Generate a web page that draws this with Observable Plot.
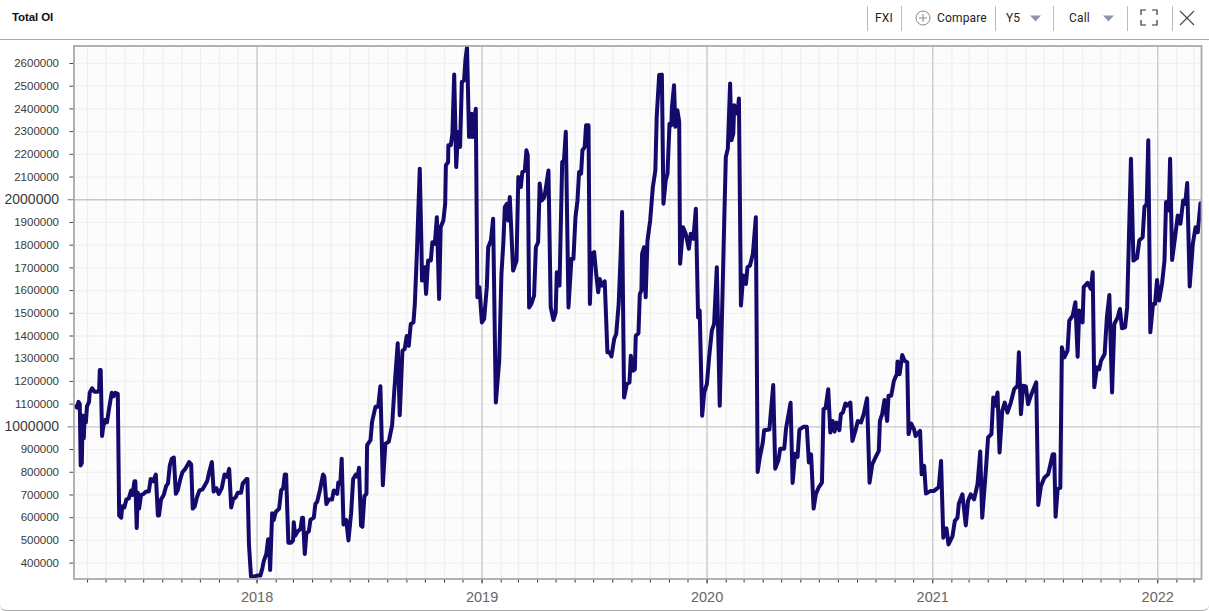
<!DOCTYPE html>
<html>
<head>
<meta charset="utf-8">
<script src="https://cdn.jsdelivr.net/npm/d3@7"></script>
<script src="https://cdn.jsdelivr.net/npm/@observablehq/plot@0.6"></script>
<style>
html,body{margin:0;padding:0;background:#fff;overflow:hidden}
#wrap{position:relative;width:1209px;height:610px;border-bottom:1px solid #aaa;border-radius:0 0 6px 6px;box-sizing:content-box}
#head{position:absolute;left:0;top:0;width:1209px;height:38.5px;border-bottom:1px solid #ababab;font:12px Roboto,sans-serif;color:#222}
#head span{position:absolute;top:10.5px;line-height:14px;white-space:nowrap;letter-spacing:.15px}
#head i{position:absolute;top:6px;width:1px;height:25px;background:#bcbcbc}
#head span.title{left:12px;top:10.5px;font:bold 11.5px "Liberation Sans",Arial,sans-serif;color:#111;letter-spacing:-.1px}
#head svg{position:absolute;left:0;top:0}
#chart{position:absolute;left:0;top:39px}
#chart svg{display:block}
</style>
</head>
<body>
<div id="wrap">
<div id="head">
<span class="title">Total OI</span>
<i style="left:867px"></i><span style="left:875px">FXI</span><i style="left:901px"></i>
<span style="left:937px">Compare</span><i style="left:995px"></i>
<span style="left:1006px">Y5</span><i style="left:1053px"></i>
<span style="left:1069px">Call</span><i style="left:1127px"></i><i style="left:1172px"></i>
<svg width="1209" height="39" fill="none">
<circle cx="923" cy="18" r="7" stroke="#8a8a8a"/>
<path d="M919 18h8M923 14v8" stroke="#8a8a8a"/>
<path d="M1030 15.5h11l-5.500 6z" fill="#8d97ab"/>
<path d="M1103 15.5h11l-5.500 6z" fill="#8d97ab"/>
<path d="M1141 15v-5h5M1152 10h5v5M1157 20v5h-5M1146 25h-5v-5" stroke="#333" stroke-width="1.200"/>
<path d="M1180 11l14 14M1194 11l-14 14" stroke="#444" stroke-width="1.100"/>
</svg>
</div>
<div id="chart"></div>
</div>
<script>
const frac2017=[.193,.200,.206,.212,.216,.221,.225,.230,.233,.239,.244,.253,.256,.267,.277,.292,.298,.301,.305,.311,.316,.324,.333,.342,.354,.363,.370,.381,.387,.396,.401,.410,.419,.430,.440,.446,.455,.459,.465,.470,.476,.484,.496,.507,.519,.527,.538,.550,.559,.564,.573,.585,.596,.604,.612,.621,.630,.639,.647,.659,.668,.681,.698,.707,.714,.723,.733,.744,.758,.778,.787,.799,.807,.819,.830,.843,.855,.867,.876,.885,.893,.905,.914,.929,.936,.953,.957,.964,.973,.985];
const oi2017=[1090,1085,1110,1100,830,840,1050,950,1040,1020,1090,1110,1150,1170,1155,1155,1160,1250,1250,960,1000,1030,1020,1080,1150,1135,1150,1145,610,600,650,645,680,685,720,700,760,760,555,710,640,700,705,715,715,770,760,790,610,610,680,700,740,750,830,860,865,705,720,770,800,815,845,835,640,650,690,720,725,760,800,845,715,730,705,730,790,780,815,645,680,690,710,710,750,770,770,480,340,340];
const frac2018=[0,.015,.024,.030,.041,.049,.053,.058,.067,.074,.083,.098,.107,.116,.123,.129,.139,.151,.160,.163,.169,.181,.193,.200,.204,.212,.219,.230,.237,.252,.259,.267,.279,.293,.299,.308,.319,.333,.341,.356,.361,.370,.376,.384,.396,.406,.418,.427,.439,.447,.453,.462,.468,.477,.486,.489,.504,.511,.526,.538,.548,.559,.570,.585,.600,.610,.625,.634,.646,.656,.665,.674,.683,.695,.701,.710,.723,.730,.733,.745,.751,.760,.772,.779,.790,.799,.809,.816,.828,.836,.839,.849,.850,.861,.868,.876,.885,.893,.902,.910,.920,.926,.933,.942,.953,.957,.972,.979,.988,.999];
const oi2018=[345,345,380,410,440,505,505,370,620,590,625,640,720,730,790,790,490,490,500,580,520,540,550,600,600,440,530,540,590,600,660,670,720,790,780,660,680,680,720,705,755,750,860,570,590,500,620,770,790,780,820,565,560,695,705,919,941,1022,1088,1088,1179,743,926,934,1007,1162,1368,1051,1335,1343,1400,1357,1453,1460,1540,1760,2137,1820,1644,1703,1585,1732,1732,1813,1806,1923,1563,1880,1909,1982,2151,2166,2240,2240,2290,2551,2144,2298,2232,2519,2526,2615,2673,2276,2379,2276,2401,1571,1615,1460];
const frac2019=[.009,.021,.027,.039,.049,.061,.076,.086,.095,.101,.110,.116,.123,.138,.153,.161,.172,.179,.190,.197,.203,.209,.219,.231,.239,.249,.256,.265,.277,.284,.295,.305,.317,.327,.332,.344,.356,.364,.372,.384,.397,.406,.415,.424,.431,.440,.446,.456,.462,.473,.479,.487,.498,.507,.516,.523,.532,.545,.557,.566,.575,.587,.596,.607,.616,.622,.631,.643,.655,.661,.671,.679,.683,.695,.701,.708,.711,.720,.727,.735,.747,.759,.770,.776,.787,.799,.806,.816,.824,.833,.841,.844,.853,.859,.868,.876,.880,.893,.905,.919,.927,.939,.950,.960,.967,.978,.987,.999];
const oi2019=[1475,1615,1791,1820,1916,1107,1291,1674,1820,1968,1982,1909,2012,1688,1732,2100,2056,2122,2129,2218,2196,1526,1541,1578,1791,1813,2071,1997,2012,2056,2129,1526,1471,1504,1681,1622,2166,2174,2299,1526,1740,1740,1923,1997,2122,2115,2218,2232,2328,2328,1541,1762,1769,1674,1593,1651,1622,1641,1328,1328,1310,1387,1409,1541,1762,1946,1129,1188,1196,1313,1247,1254,1401,1412,1585,1600,1762,1791,1571,1820,1909,2056,2129,2365,2549,2551,1982,2085,2115,2335,2328,2409,2504,2321,2394,2343,1718,1879,1850,1784,1850,1828,1960,1482,1512,1049,1151,1188];
const frac2020=[.009,.021,.031,.043,.056,.068,.076,.083,.092,.102,.108,.116,.120,.135,.141,.150,.160,.172,.179,.190,.203,.216,.224,.234,.246,.253,.276,.293,.302,.316,.324,.342,.350,.370,.379,.390,.401,.409,.412,.427,.442,.451,.461,.472,.482,.494,.509,.516,.525,.537,.546,.556,.565,.573,.586,.593,.602,.613,.620,.635,.644,.657,.668,.682,.694,.709,.720,.732,.746,.761,.766,.776,.786,.798,.804,.816,.828,.841,.844,.853,.865,.875,.887,.893,.904,.917,.924,.944,.951,.962,.970,.991];
const oi2020=[1306,1424,1453,1703,1093,1571,1909,2188,2225,2512,2262,2291,2416,2379,2446,1534,1666,1629,1703,1710,1762,1923,801,868,926,985,988,1184,816,853,904,904,993,1106,753,882,868,985,990,1000,1000,843,879,640,703,732,754,1078,1082,1166,975,1026,979,1019,985,1056,1063,1103,1093,1107,938,982,1026,1019,1056,1126,754,835,865,894,1026,1056,1118,1026,1137,1137,1203,1232,1288,1232,1316,1291,1284,968,1015,990,960,982,791,828,706,718];
const frac2021=[.006,.027,.037,.047,.061,.070,.088,.098,.110,.116,.132,.147,.157,.169,.184,.199,.211,.220,.237,.246,.261,.269,.277,.288,.297,.309,.320,.332,.347,.362,.377,.383,.392,.402,.414,.424,.436,.460,.469,.481,.496,.513,.533,.540,.546,.555,.567,.574,.585,.599,.607,.622,.634,.644,.651,.666,.671,.688,.703,.711,.718,.730,.740,.748,.764,.774,.785,.797,.807,.822,.832,.841,.855,.864,.874,.881,.892,.908,.918,.933,.941,.951,.958,.967,.979,.988,.997];
const oi2021=[718,735,850,512,553,482,519,585,600,662,703,566,674,703,681,747,891,600,821,953,968,1129,1093,1151,887,1071,1107,1063,1107,1166,1181,1328,1056,1181,1178,1100,1137,1196,656,740,776,791,879,879,604,725,732,1350,1306,1335,1468,1490,1549,1309,1512,1460,1615,1634,1607,1681,1174,1262,1254,1291,1321,1482,1581,1151,1453,1482,1519,1434,1438,1526,1909,2181,1732,1744,1821,1835,1968,1982,2262,1416,1541,1541,1647];
const frac2022=[.006,.019,.030,.037,.049,.055,.064,.077,.089,.101,.113,.122,.131,.142,.156,.168,.178,.190];
const oi2022=[1556,1629,1732,1990,1953,2181,1735,1835,1931,1894,1997,1982,2074,1618,1806,1879,1857,1985];

const minorY=[400000,500000,600000,700000,800000,900000,1100000,1200000,1300000,1400000,1500000,1600000,1700000,1800000,1900000,2100000,2200000,2300000,2400000,2500000,2600000];
const majorY=[1000000,2000000];
const yearTicks=["2018-01-01","2019-01-01","2020-01-01","2021-01-01","2022-01-01"].map(d=>new Date(d));
const monthTicks=d3.utcMonth.range(new Date("2017-04-01"),new Date("2022-03-13"));
const xDomain=[new Date("2017-03-10"),new Date("2022-03-13")];
const yDomain=[330000,2677000];

const toDate=(y,f)=>{const a=Date.UTC(y,0,1),b=Date.UTC(y+1,0,1);return new Date(a+f*(b-a));};
const series=[[2017,frac2017,oi2017],[2018,frac2018,oi2018],[2019,frac2019,oi2019],[2020,frac2020,oi2020],[2021,frac2021,oi2021],[2022,frac2022,oi2022]];
const rows=series.flatMap(([y,fs,vs])=>fs.map((f,i)=>({date:toDate(y,f),oi:vs[i]*1000})));

const chart=Plot.plot({
  width:1209,height:571,
  marginLeft:73.5,marginRight:8,marginTop:6.5,marginBottom:31.5,
  style:{background:"transparent",fontFamily:'"Liberation Sans",Arial,sans-serif',overflow:"visible"},
  x:{type:"time",domain:xDomain,axis:null},
  y:{domain:yDomain,axis:null},
  marks:[
    Plot.frame({fill:"#fcfcfc",stroke:null}),
    Plot.ruleX(monthTicks,{stroke:"#efefef",strokeWidth:1.3}),
    Plot.ruleY(minorY,{stroke:"#f1f1f1",strokeWidth:1.3}),
    Plot.ruleX(yearTicks,{stroke:"#cfcfcf",strokeWidth:1.5}),
    Plot.ruleY(majorY,{stroke:"#c8c8c8",strokeWidth:1.3}),
    Plot.axisX({ticks:monthTicks,tickSize:4,tickPadding:0,tickFormat:()=>"",label:null,stroke:"#333",tickStrokeWidth:1}),
    Plot.axisX({ticks:yearTicks,tickSize:5,tickPadding:8,tickFormat:d=>d3.utcFormat("%Y")(d),label:null,fontSize:14.5,fill:"#666",stroke:"#444"}),
    Plot.axisY({ticks:minorY,tickSize:4,tickPadding:11,tickFormat:d=>String(d),label:null,fontSize:11.5,fill:"#3a3a3a",stroke:"#444"}),
    Plot.axisY({ticks:majorY,tickSize:6,tickPadding:9,tickFormat:d=>String(d),label:null,fontSize:14,fill:"#3a3a3a",stroke:"#777"}),
    Plot.line(rows,{x:"date",y:"oi",stroke:"#130a6b",strokeWidth:4,strokeLinejoin:"round",strokeLinecap:"round",clip:true}),
    Plot.frame({stroke:"#aaaaaa",strokeWidth:1.8,fill:"none"})
  ]
});
document.getElementById("chart").appendChild(chart);
</script>
</body>
</html>
